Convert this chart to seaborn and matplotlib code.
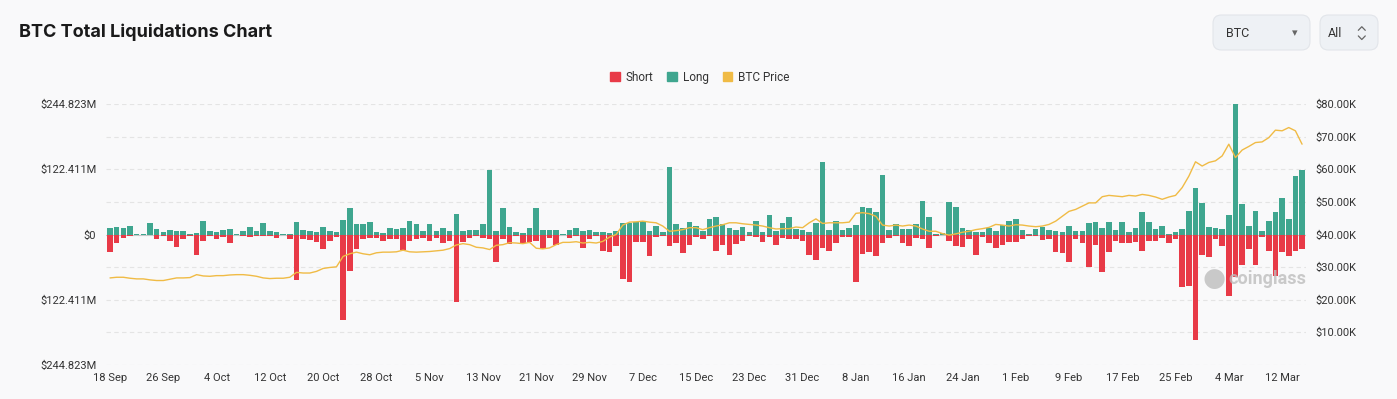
import numpy as np
import pandas as pd
import matplotlib
matplotlib.use('Agg')
import matplotlib.pyplot as plt
from matplotlib.patches import FancyBboxPatch, Patch
from matplotlib.lines import Line2D
import seaborn as sns

# ---- data ($M for liquidations, $K for price) ----
start_date = '2023-09-18'

long_m = [
    12, 14, 13, 16, 1, 0.5, 22, 11, 4, 9, 6, 6, 1, 2, 25, 7, 4, 9, 10, 0.5,
    6, 15, 7, 22, 6, 4, 1, 1, 23, 9, 7, 5, 15, 6, 4, 28, 50, 19, 19, 24,
    4, 2, 13, 11, 13, 26, 19, 6, 19, 6, 12, 6, 39, 7,
    9, 8, 19, 121, 7, 50, 15, 4, 2, 13, 50, 8, 8, 8, 1, 8, 13, 7, 8, 4,
    4, 3, 6, 21, 21, 24, 26, 7, 16, 4, 127, 19, 12, 23, 16, 6, 30, 33, 19, 12,
    9, 15, 4, 25, 5, 37, 6, 21, 33, 11, 9, 4, 21, 136, 9, 25, 8, 12, 17, 52,
    50, 43, 112, 8, 19, 10, 10, 19, 63,
    32, 1, 2, 61, 52, 13, 8, 4, 5, 13, 6, 17, 26, 29, 9, 1, 10, 15, 8, 6,
    4, 16, 7, 7, 21, 23, 13, 24, 9, 24, 5, 12, 43, 24, 11, 16, 1, 4, 11, 45,
    87, 60, 14, 12, 11, 37, 244.823, 58, 16, 45, 6, 25, 43, 68, 30, 110, 122,
]

short_m = [
    32, 16, 7, 3, 0.5, 0.5, 1, 9, 2, 13, 23, 9, 2, 38, 13, 2, 9, 5, 16, 0.5,
    2, 4, 3, 2, 2, 6, 1, 9, 85, 8, 11, 14, 28, 13, 4, 161, 68, 27, 9, 7,
    7, 13, 8, 8, 29, 12, 8, 6, 13, 7, 16, 13, 127, 14,
    6, 3, 7, 8, 51, 9, 18, 3, 16, 14, 13, 28, 7, 19, 1, 6, 3, 26, 8, 3,
    30, 32, 22, 84, 90, 14, 14, 41, 5, 3, 21, 16, 35, 19, 5, 8, 2, 30, 19, 38,
    18, 13, 2, 5, 14, 5, 19, 7, 8, 8, 13, 38, 48, 26, 30, 16, 5, 5, 89, 36,
    33, 40, 16, 6, 2, 16, 22, 6, 9,
    26, 2, 0.5, 13, 22, 24, 8, 38, 5, 15, 26, 19, 14, 14, 9, 3, 3, 11, 8, 33,
    35, 52, 9, 16, 60, 19, 71, 32, 13, 16, 16, 14, 30, 13, 12, 7, 16, 8, 98, 96,
    198, 38, 43, 9, 21, 116, 80, 58, 28, 58, 5, 30, 77, 33, 40, 31, 28,
]

price_k = [
    26.7, 26.9, 26.9, 26.6, 26.4, 26.4, 26.1, 25.9, 25.9, 26.3, 26.7, 26.7, 26.8, 27.7,
    27.3, 27.2, 27.4, 27.4, 27.6, 27.7, 27.7, 27.5, 27.2, 26.7, 26.5, 26.6, 26.6, 26.9,
    28.4, 28.2, 28.2, 28.7, 29.6, 29.9, 30.1, 33.3, 34.1, 34.6, 34.1, 33.8, 34.4, 34.6,
    34.6, 34.7, 35.2, 34.7, 34.6, 34.7, 34.8, 35.0, 35.2, 35.7, 36.8, 37.2,
    36.9, 36.1, 35.9, 35.4, 36.7, 36.9, 37.5, 37.4, 37.2, 37.6, 35.8, 35.6, 35.9, 36.9,
    37.6, 37.6, 37.8, 37.4, 37.6, 37.4, 37.9, 39.2, 40.0, 42.9, 43.8, 43.9, 44.1, 43.8,
    43.6, 42.6, 41.0, 41.2, 41.5, 42.1, 42.1, 41.5, 42.1, 42.6, 43.0, 43.6, 43.6, 43.3,
    43.1, 42.9, 42.6, 42.1, 41.7, 41.8, 41.8, 42.3, 42.1, 43.6, 44.8, 43.4, 43.6, 43.6,
    43.6, 43.8, 46.5, 46.7, 46.4, 45.6, 42.9, 42.6, 42.9, 42.6, 42.9, 42.6, 41.7,
    41.0, 41.0, 40.3, 39.8, 40.2, 40.7, 41.0, 41.5, 41.8, 42.2, 43.1, 42.9, 42.6, 43.0,
    42.9, 42.6, 42.4, 42.6, 43.1, 44.1, 45.6, 47.1, 47.7, 48.7, 49.7, 49.7, 51.6, 52.0,
    51.8, 51.6, 52.0, 51.8, 52.3, 52.0, 51.5, 50.8, 51.5, 52.0, 54.4, 57.9, 62.3, 61.0,
    62.1, 62.6, 64.1, 67.7, 63.6, 65.9, 67.0, 68.2, 68.4, 69.7, 72.0, 71.8, 72.8, 71.8,
    67.7,
]

left_max = 244.823
left_labels = ['$244.823M', '', '$122.411M', '', '$0', '', '$122.411M', '', '$244.823M']
right_ticks = [10000, 20000, 30000, 40000, 50000, 60000, 70000, 80000]
right_labels = ['$10.00K', '$20.00K', '$30.00K', '$40.00K',
                '$50.00K', '$60.00K', '$70.00K', '$80.00K']

dates = pd.date_range(start_date, periods=len(long_m))
df = pd.DataFrame({
    'date': dates.strftime('%-d %b'),
    'long': long_m,
    'short': [-v for v in short_m],
    'price': [p * 1000 for p in price_k],
})

red = '#e83a47'
teal = '#3fa68f'
gold = '#f0bb45'
bg = '#f9f9fa'
txt = '#333333'

sns.set_theme(style='white')
plt.rcParams['font.family'] = ['Roboto', 'DejaVu Sans']

fig = plt.figure(figsize=(13.97, 3.99), dpi=100, facecolor=bg)
ax = fig.add_axes([0.0759, 0.0852, 0.859, 0.654])
ax.set_facecolor(bg)

sns.barplot(data=df, x='date', y='long', color=teal, saturation=1, linewidth=0,
            width=0.84, errorbar=None, ax=ax, zorder=2)
sns.barplot(data=df, x='date', y='short', color=red, saturation=1, linewidth=0,
            width=0.84, errorbar=None, ax=ax, zorder=2)
ax.axhline(0, color='#c8c8c8', lw=0.8, zorder=1)

n = len(df)
ax.set_xlim(-0.6, n - 0.4)
ax.set_ylim(-left_max, left_max)
ax.set_yticks(np.linspace(-left_max, left_max, 9))
ax.set_yticklabels(left_labels)
ax.set_xticks(range(0, n, 8))
ax.set_xticklabels(df['date'].iloc[::8])
ax.set_xlabel('')
ax.set_ylabel('')
ax.tick_params(axis='both', length=0, labelsize=8, colors=txt)
ax.tick_params(axis='y', pad=7)
ax.tick_params(axis='x', pad=6)
ax.grid(axis='y', color='#e4e4e4', linestyle=(0, (4, 3)), lw=0.8, zorder=0)
ax.set_axisbelow(True)
for s in ax.spines.values():
    s.set_visible(False)

ax2 = ax.twinx()
sns.lineplot(x=np.arange(n), y=df['price'], ax=ax2, color=gold, lw=1.0)
ax2.set_ylim(0, 80000)
ax2.set_yticks(right_ticks)
ax2.set_yticklabels(right_labels)
ax2.set_ylabel('')
ax2.tick_params(axis='y', length=0, labelsize=8, colors=txt, pad=7)
for s in ax2.spines.values():
    s.set_visible(False)
ax2.patch.set_visible(False)

# legend
handles = [Patch(color=red, label='Short'), Patch(color=teal, label='Long'),
           Patch(color=gold, label='BTC Price')]
fig.legend(handles=handles, loc='center', bbox_to_anchor=(0.501, 0.807), ncol=3,
           frameon=False, fontsize=8.5, handlelength=0.8, handleheight=0.8,
           handletextpad=0.5, columnspacing=1.2, labelcolor=txt)

# title
fig.text(0.0136, 0.918, 'BTC Total Liquidations Chart', fontsize=13, fontweight='bold',
         family=['Inter', 'DejaVu Sans'], color='#1a1a1a', va='center')

# selector boxes
for x0, w in [(0.8683, 0.0694), (0.9449, 0.0415)]:
    fig.patches.append(FancyBboxPatch((x0, 0.8747), w, 0.0877,
                                      boxstyle='round,pad=0,rounding_size=0.006',
                                      transform=fig.transFigure, fc='#eef1f5',
                                      ec='#e2e5ea', lw=0.8, mutation_aspect=3.5))
fig.text(0.8776, 0.917, 'BTC', fontsize=9, color=txt, va='center')
fig.text(0.9506, 0.917, 'All', fontsize=9, color=txt, va='center')
fig.text(0.9265, 0.917, '\u25be', fontsize=8, color='#666666', va='center', ha='center',
         family=['DejaVu Sans'])
fig.lines.append(Line2D([0.9723, 0.9748, 0.9773], [0.924, 0.933, 0.924],
                        transform=fig.transFigure, color='#666666', lw=0.9))
fig.lines.append(Line2D([0.9723, 0.9748, 0.9773], [0.910, 0.901, 0.910],
                        transform=fig.transFigure, color='#666666', lw=0.9))

# watermark
fig.text(0.861, 0.300, '\u25cf', fontsize=19, color='#bdbdbd', alpha=0.8, va='center')
fig.text(0.879, 0.300, 'coinglass', fontsize=13, fontweight='bold', color='#bdbdbd',
         alpha=0.8, va='center')

fig.savefig('out.png', dpi=100, facecolor=bg)
